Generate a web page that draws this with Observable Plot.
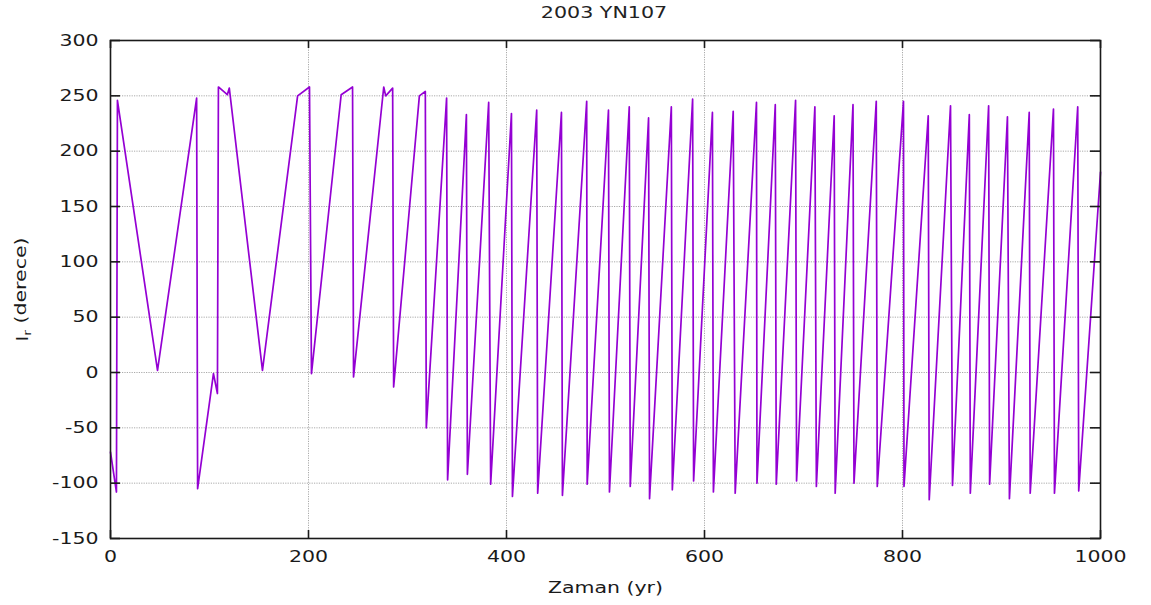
<!DOCTYPE html>
<html><head><meta charset="utf-8">
<script src="https://cdn.jsdelivr.net/npm/d3@7"></script>
<script src="https://cdn.jsdelivr.net/npm/@observablehq/plot@0.6"></script>
<style>
body{margin:0;background:#fff;font-family:"DejaVu Sans",sans-serif;}
#title{height:25px;width:1151px;position:relative;}
#title span{position:absolute;left:604px;top:4px;transform:translateX(-50%) scaleX(1.33);font-size:15.5px;color:#222;white-space:nowrap;}
</style></head><body>
<div id="title"><span id="tt"></span></div>
<div id="chart"></div>
<script>
const titleText = "2003 YN107";
const xLabel = "Zaman (yr)";
const yLabelMain = "l";
const yLabelSub = "r";
const yLabelRest = " (derece)";
const xTicks = [0, 200, 400, 600, 800, 1000];
const yTicks = [-150, -100, -50, 0, 50, 100, 150, 200, 250, 300];
const times = [0, 6, 7, 47.5, 87, 88, 104, 108, 109, 118, 120, 153.5, 189, 201, 203, 233, 244.5, 245.5, 276, 278, 285, 286, 312, 318, 319,
  339.5, 340.5, 359.5, 360.5, 382, 384, 405, 406, 430.5, 431.5, 455.5, 456.5, 481, 481.5, 503, 504, 524, 525, 543.5, 544.5,
  566.5, 567.5, 588, 589, 608, 609, 629, 631, 652.5, 653, 671.5, 672.5, 692, 693, 711.5, 713, 731, 732, 750, 751,
  773.5, 774.5, 801, 801.5, 826, 827, 848.5, 850.5, 867.5, 868.5, 887, 888, 906, 908, 928, 929, 952.5, 953.5, 977, 978, 1000];
const values = [-72, -108, 246, 2, 248, -105, -1, -19, 258, 251, 257, 2, 250, 258, -1, 251, 258, -4, 258, 250, 257, -13, 250, 254, -50,
  248, -97, 233, -92, 244, -101, 234, -112, 237, -109, 235, -111, 245, -101, 237, -108, 240, -103, 230, -114,
  240, -106, 247, -98, 235, -108, 236, -109, 244, -100, 242, -101, 246, -98, 240, -103, 232, -109, 242, -100,
  245, -103, 245, -103, 232, -115, 241, -102, 233, -109, 241, -101, 231, -114, 235, -109, 238, -109, 240, -107, 181];

document.getElementById("tt").textContent = titleText;
const data = times.map((t, i) => ({t, v: values[i]}));
const ink = "#1a1a1a";
const fmt = d => String(d);
const chart = Plot.plot({
  width: 1151, height: 580,
  marginTop: 15, marginLeft: 110, marginRight: 51, marginBottom: 67,
  style: {fontFamily: "DejaVu Sans, sans-serif", background: "#fff", color: ink},
  x: {domain: [0, 1000], label: null},
  y: {domain: [-150, 300], label: null},
  marks: [
    Plot.gridX(xTicks, {stroke: "#aaa", strokeOpacity: 1, strokeDasharray: "1.2,1.2", strokeWidth: 1}),
    Plot.gridY(yTicks, {stroke: "#aaa", strokeOpacity: 1, strokeDasharray: "1.2,1.2", strokeWidth: 1}),
    Plot.line(data, {x: "t", y: "v", stroke: "#9400d3", strokeWidth: 1.7}),
    Plot.frame({stroke: ink, strokeWidth: 1.6}),
    Plot.tickX(xTicks, {x: d => d, insetTop: 490, stroke: ink, strokeWidth: 1.6}),
    Plot.tickX(xTicks, {x: d => d, insetBottom: 490, stroke: ink, strokeWidth: 1.6}),
    Plot.tickY(yTicks, {y: d => d, insetRight: 980, stroke: ink, strokeWidth: 1.6}),
    Plot.tickY(yTicks, {y: d => d, insetLeft: 980, stroke: ink, strokeWidth: 1.6}),
    Plot.axisX(xTicks, {anchor: "bottom", tickSize: 0, tickPadding: 12, fontSize: 16, label: null, fill: ink, tickFormat: fmt}),
    Plot.axisY(yTicks, {anchor: "left", tickSize: 0, tickPadding: 12, fontSize: 16, label: null, fill: ink, tickFormat: fmt}),
    Plot.text([xLabel], {frameAnchor: "bottom", dy: 49, fontSize: 16, fill: ink, lineAnchor: "middle"}),
    Plot.text([yLabelMain + yLabelSub + yLabelRest], {frameAnchor: "left", dx: -88, rotate: -90, fontSize: 16, fill: ink, lineAnchor: "middle", textAnchor: "middle"})
  ]
});
const svg = d3.select(chart);
svg.selectAll("text").each(function() {
  const tr = this.getAttribute("transform");
  if (tr) this.setAttribute("transform", tr + " scale(1.28,1)");
});
svg.selectAll("text").filter(function() { return this.textContent === yLabelMain + yLabelSub + yLabelRest; }).each(function() {
  const t = d3.select(this);
  t.text(null);
  t.append("tspan").text(yLabelMain);
  t.append("tspan").attr("dy", "0.35em").attr("font-size", 11).text(yLabelSub);
  t.append("tspan").attr("dy", "-0.35em").text(yLabelRest);
});
document.getElementById("chart").appendChild(chart);
</script>
</body></html>
